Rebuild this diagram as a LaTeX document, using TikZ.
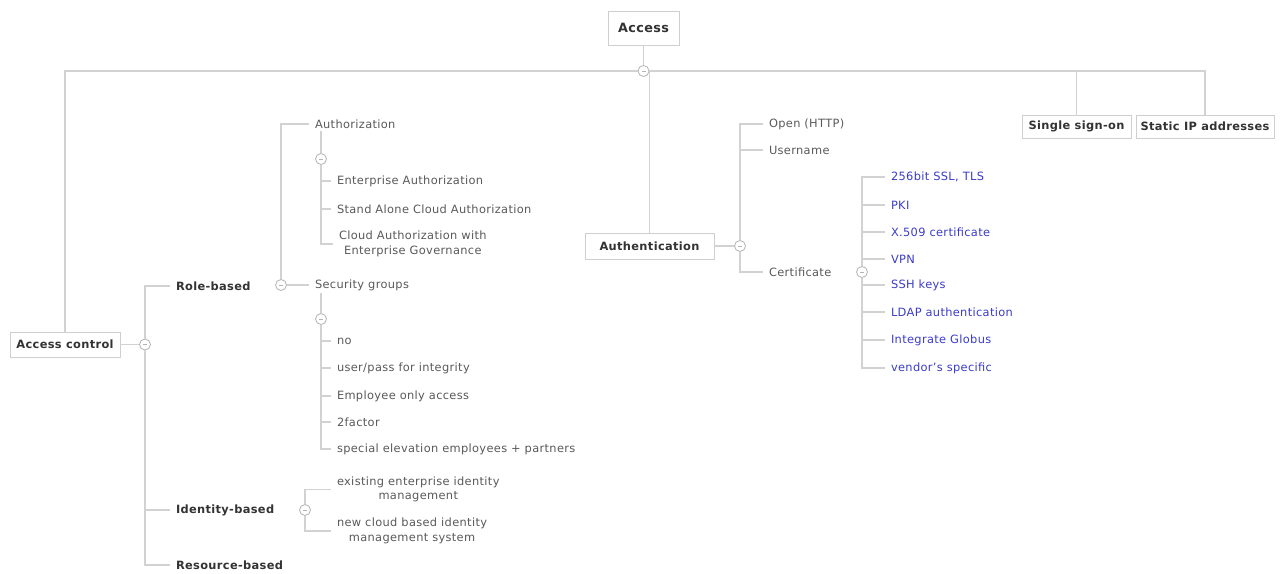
\documentclass[tikz,border=0pt]{standalone}
\usepackage{fontspec}
\setmainfont[LetterSpace=3]{DejaVu Sans}
\definecolor{linegray}{HTML}{D2D2D2}
\definecolor{boxgray}{HTML}{CFCFCF}
\definecolor{togglegray}{HTML}{B4B4B4}
\definecolor{headtext}{HTML}{333333}
\definecolor{leaftext}{HTML}{5A5A5A}
\definecolor{linkblue}{HTML}{3C3CC8}
\begin{document}
\begin{tikzpicture}[x=1pt,y=-1pt,
  conn/.style={draw=linegray, line width=1.1pt},
  topic/.style={draw=boxgray, line width=0.9pt, fill=white, text=headtext,
    font=\bfseries\fontsize{11.4}{13}\selectfont, inner sep=0pt},
  toggle/.style={circle, draw=togglegray, fill=white, line width=0.8pt,
    minimum size=11pt, inner sep=0pt,
    path picture={\draw[togglegray, line width=0.8pt]
      ([xshift=-2pt]path picture bounding box.center) --
      ([xshift=2pt]path picture bounding box.center);}},
  leaf/.style={anchor=west, inner xsep=0pt, inner ysep=2pt, outer xsep=6pt,
    text=leaftext, font=\fontsize{11.4}{13}\selectfont},
  heading/.style={leaf, text=headtext, font=\bfseries\fontsize{11.4}{13}\selectfont},
  linkleaf/.style={leaf, text=linkblue},
  twoline/.style={leaf, align=center, font=\fontsize{11.4}{14.5}\selectfont},
]
\useasboundingbox (0,0) rectangle (1284,573);
\fill[white] (0,0) rectangle (1284,573);

% main topics
\node[topic, minimum width=71pt, minimum height=34pt,
      font=\bfseries\fontsize{12.8}{14}\selectfont] (acc) at (643.5,28) {Access};
\node[toggle] (cA) at (643.5,71) {};
\node[topic, minimum width=110pt, minimum height=25pt] (ac) at (65,344.5) {Access control};
\node[topic, minimum width=129pt, minimum height=26pt] (auth) at (649.5,246) {Authentication};
\node[topic, minimum width=109pt, minimum height=23pt] (sso) at (1076.5,126.5) {Single sign-on};
\node[topic, minimum width=138pt, minimum height=23pt] (sip) at (1205,126.5) {Static IP addresses};

% access control branch
\node[toggle] (cAC) at (145,344.5) {};
\node[heading] (rb) at (170,286) {Role-based};
\node[heading] (ib) at (170,510) {Identity-based};
\node[heading] (resb) at (170,565) {Resource-based};

\node[toggle] (cRB) at (281,285) {};
\node[leaf] (authz) at (309,124) {Authorization};
\node[toggle] (cAZ) at (321,159) {};
\node[leaf] (ea) at (331,181) {Enterprise Authorization};
\node[leaf] (sa) at (331,209) {Stand Alone Cloud Authorization};
\node[twoline] (ca) at (333,244) {Cloud Authorization with\\Enterprise Governance};

\node[leaf] (sg) at (309,285) {Security groups};
\node[toggle] (cSG) at (321,319) {};
\node[leaf] (no) at (331,341) {no};
\node[leaf] (up) at (331,368) {user/pass for integrity};
\node[leaf] (eo) at (331,396) {Employee only access};
\node[leaf] (tf) at (331,422) {2factor};
\node[leaf] (se) at (331,449) {special elevation employees + partners};

\node[toggle] (cIB) at (305,510) {};
\node[twoline] (ex) at (331,489.5) {existing enterprise identity\\management};
\node[twoline] (nc) at (331,531) {new cloud based identity\\management system};

% authentication branch
\node[toggle] (cAU) at (740,246) {};
\node[leaf] (open) at (763,124) {Open (HTTP)};
\node[leaf] (user) at (763,150) {Username};
\node[leaf] (cert) at (763,272) {Certificate};
\node[toggle] (cCE) at (862,272) {};
\node[linkleaf] (k1) at (885,177) {256bit SSL, TLS};
\node[linkleaf] (k2) at (885,205) {PKI};
\node[linkleaf] (k3) at (885,232) {X.509 certificate};
\node[linkleaf] (k4) at (885,259) {VPN};
\node[linkleaf] (k5) at (885,285) {SSH keys};
\node[linkleaf] (k6) at (885,312) {LDAP authentication};
\node[linkleaf] (k7) at (885,340) {Integrate Globus};
\node[linkleaf] (k8) at (885,368) {vendor's specific};

% connectors
\begin{scope}[conn]
\draw (acc) -- (cA);
\draw (cA) -| (ac.north);
\draw (cA) -| (auth.north);
\draw (cA) -| (sso.north);
\draw (cA) -| (sip.north);

\draw (ac) -- (cAC);
\foreach \n in {rb,ib,resb} \draw (cAC) |- (\n.west);

\draw (cRB) |- (authz.west);
\draw (cRB) -- (sg.west);
\draw (cAZ) -- (authz.south -| cAZ);
\foreach \n in {ea,sa,ca} \draw (cAZ) |- (\n.west);
\draw (cSG) -- (sg.south -| cSG);
\foreach \n in {no,up,eo,tf,se} \draw (cSG) |- (\n.west);
\foreach \n in {ex,nc} \draw (cIB) |- (\n.west);

\draw (auth) -- (cAU);
\foreach \n in {open,user,cert} \draw (cAU) |- (\n.west);
\foreach \n in {k1,k2,k3,k4,k5,k6,k7,k8} \draw (cCE) |- (\n.west);
\end{scope}
\end{tikzpicture}
\end{document}
